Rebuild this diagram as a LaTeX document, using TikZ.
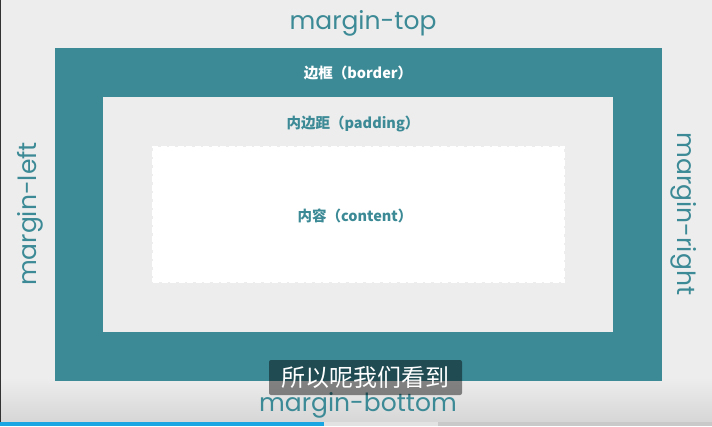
\documentclass[tikz,border=0pt]{standalone}
\usepackage{fontspec}
\setmainfont{Poppins}
\newfontfamily\cjk{Noto Sans CJK SC}
\usetikzlibrary{positioning}
\definecolor{cTeal}{HTML}{3C8A96}
\definecolor{cBack}{HTML}{EDEDED}
\definecolor{cShade}{HTML}{D6D6D6}
\definecolor{cBar}{HTML}{1AA6E2}
\definecolor{cBarLight}{HTML}{E2E2E2}
\definecolor{cBarDark}{HTML}{C9C9C9}
\tikzset{
  boxModel/.style={
    every node/.style={inner sep=0pt, outer sep=0pt},
    line cap=butt, line join=miter,
  },
  borderBox/.style={
    fill=cTeal, draw=none, minimum width=607pt, minimum height=333pt,
  },
  paddingBox/.style={
    fill=cBack, draw=none, minimum width=510pt, minimum height=235pt,
  },
  contentBox/.style={
    fill=white, draw=white, line width=1.6pt, dash pattern=on 6pt off 2.5pt,
    minimum width=411pt, minimum height=135pt,
  },
  marginLabel/.style={font=\fontsize{25}{27}\selectfont, text=cTeal},
  boxLabel/.style={font=\cjk\bfseries\fontsize{14.5}{16}\selectfont, text=cTeal},
  captionBox/.style={
    fill=black, fill opacity=0.45, text opacity=1, text=white,
    rounded corners=2pt, minimum width=193pt, minimum height=35pt,
    font=\cjk\fontsize{24}{26}\selectfont,
  },
}
\begin{document}
\begin{tikzpicture}[boxModel, x=1pt, y=-1pt]

% ============================================================
% Page background, with the darker band near the bottom.
% ============================================================
\fill[cBack] (0,0) rectangle (712,426);
\shade[top color=cBack, bottom color=cShade] (0,378) rectangle (712,422);
\fill[black!80] (0,0) rectangle (1.2,422);
\useasboundingbox (0,0) rectangle (712,426);

% ============================================================
% Nested boxes: border, padding, content.
% ============================================================
\node[borderBox]  (border)  at (358.5,214.5) {};
\node[paddingBox] (padding) at (358,214.5) {};
\node[contentBox] (content) at (358.5,214.5) {};

% Box labels
\node[boxLabel, text=white] (borderLab)  at (358,73)  {边框（border）};
\node[boxLabel]             (paddingLab) at (353,124) {内边距（padding）};
\node[boxLabel]             (contentLab) at (355,216) {内容（content）};

% ============================================================
% Margin labels round the border box.
% ============================================================
\node[marginLabel] (mTop)    at (363,23)  {margin-top};
\node[marginLabel] (mBottom) at (358,405) {margin-bottom};
\node[marginLabel, rotate=90]  (mLeft)  at (30,214)  {margin-left};
\node[marginLabel, rotate=-90] (mRight) at (684,214) {margin-right};

% ============================================================
% Video caption and progress bar.
% ============================================================
\node[captionBox] (caption) at (365.5,377.5) {所以呢我们看到};

\fill[cBarDark]  (438,422) rectangle (712,426);
\fill[cBarLight] (324,422) rectangle (438,426);
\fill[cBar]      (0,422)   rectangle (324,426);

\end{tikzpicture}
\end{document}
